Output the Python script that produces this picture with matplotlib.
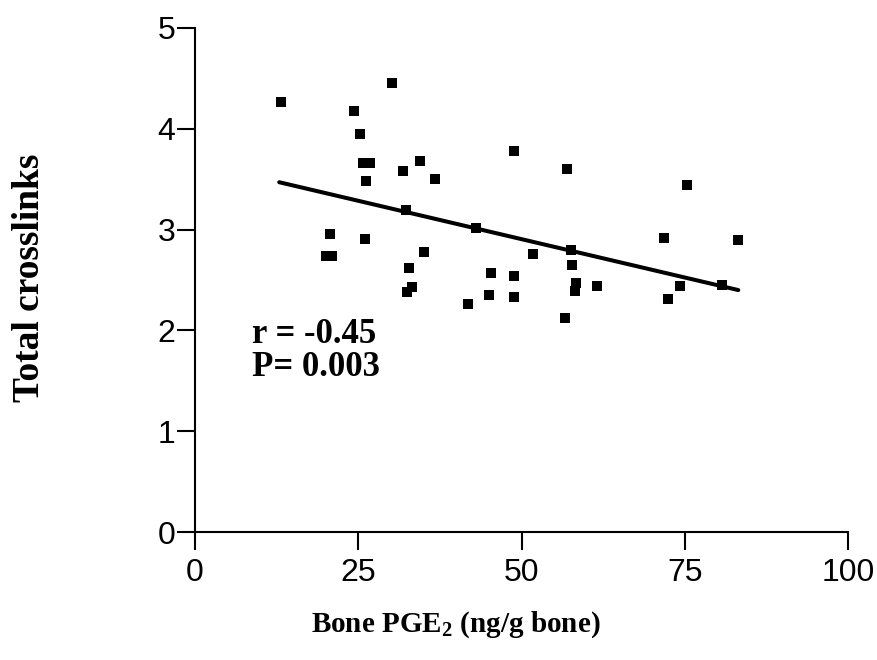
import matplotlib
matplotlib.use("Agg")
import matplotlib.pyplot as plt

# Data
pge2 = [13.1, 24.4, 30.1, 25.2, 25.7, 26.8, 26.2, 31.9, 34.5, 36.7,
        48.9, 32.3, 43.0, 20.7, 20.1, 21.0, 26.0, 35.1, 32.7, 33.3,
        32.5, 45.4, 48.8, 45.0, 48.8, 41.8, 56.9, 75.4, 51.8, 57.6,
        57.7, 58.3, 58.2, 61.5, 56.7, 71.8, 83.1, 74.3, 72.4, 80.7]
crosslinks = [4.27, 4.18, 4.45, 3.95, 3.66, 3.66, 3.48, 3.58, 3.68, 3.50,
              3.78, 3.19, 3.02, 2.96, 2.74, 2.74, 2.91, 2.78, 2.62, 2.43,
              2.38, 2.57, 2.54, 2.35, 2.33, 2.26, 3.60, 3.44, 2.76, 2.80,
              2.65, 2.47, 2.39, 2.44, 2.12, 2.92, 2.90, 2.44, 2.31, 2.45]
fit_x = [12.9, 83.2]
fit_y = [3.47, 2.40]
x_ticks = [0, 25, 50, 75, 100]
y_ticks = [0, 1, 2, 3, 4, 5]
r_text = "r = -0.45"
p_text = "P= 0.003"

fig = plt.figure(figsize=(8.77, 6.60), dpi=100)
ax = fig.add_axes([195/877, 1 - 532/660, (848-195)/877, (532-28)/660])

ax.plot(pge2, crosslinks, linestyle="none", marker="s", markersize=7.4,
        color="black", markeredgewidth=0)
ax.plot(fit_x, fit_y, color="black", linewidth=2.9, solid_capstyle="round")

ax.set_xlim(0, 100)
ax.set_ylim(0, 5)
ax.set_xticks(x_ticks)
ax.set_yticks(y_ticks)
for s in ["top", "right"]:
    ax.spines[s].set_visible(False)
for s in ["left", "bottom"]:
    ax.spines[s].set_linewidth(1.5)
ax.tick_params(axis="both", direction="out", length=13, width=1.5,
               labelsize=23)
ax.tick_params(axis="x", pad=6)
ax.tick_params(axis="y", pad=1)
for lab in ax.get_xticklabels() + ax.get_yticklabels():
    lab.set_fontfamily("Liberation Sans")

ax.set_xlabel("Bone PGE$_\\mathregular{2}$ (ng/g bone)", fontsize=21,
              fontweight="bold", fontfamily="Liberation Serif")
ax.xaxis.label.set_verticalalignment("baseline")
ax.xaxis.set_label_coords((456 - 195) / 653, (532 - 632) / 504)

ax.set_ylabel("Total crosslinks", fontsize=27, fontweight="bold",
              fontfamily="Liberation Serif")
ax.yaxis.set_label_coords((47 - 195) / 653, (532 - 278) / 504)

ax.text(8.8, 1.875, r_text, fontsize=25, fontweight="bold",
        fontfamily="Liberation Serif", va="baseline", ha="left")
ax.text(8.8, 1.548, p_text, fontsize=25, fontweight="bold",
        fontfamily="Liberation Serif", va="baseline", ha="left")

fig.savefig("out.png", dpi=100)
